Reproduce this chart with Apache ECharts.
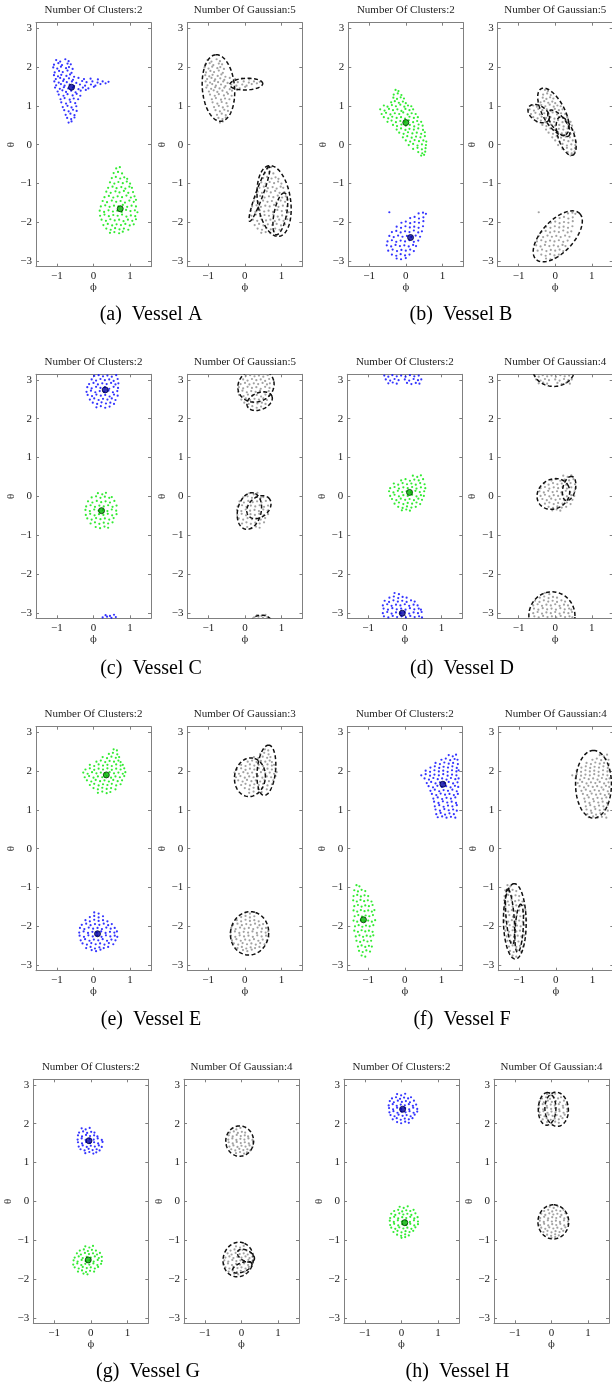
<!DOCTYPE html>
<html><head><meta charset="utf-8">
<script src="https://cdn.jsdelivr.net/npm/echarts@6/dist/echarts.min.js"></script>
<style>html,body{margin:0;padding:0;background:#fff}#c{width:612px;height:1387px}</style>
</head><body><div id="c"></div>
<script>
// ---------------- DATA ----------------
const letters = ['a','b','c','d','e','f','g','h'];
const vesselNames = ['Vessel A','Vessel B','Vessel C','Vessel D','Vessel E','Vessel F','Vessel G','Vessel H'];
const clusterCounts = [2,2,2,2,2,2,2,2];
const gaussianCounts = [5,5,5,4,3,4,4,4];
const xTickValues = [-1,0,1];
const yTickValues = [-3,-2,-1,0,1,2,3];

// point clouds: flat [phi, theta, phi, theta, ...]
const aBlue = [-1.02,2.18,-0.91,2.14,-0.77,2.20,-0.68,2.15,-1.08,2.06,-0.96,2.10,-0.86,2.05,-0.71,2.09,-0.62,2.07,-1.10,1.99,-0.99,1.96,-0.89,2.01,-0.75,1.97,-0.67,2.00,-0.57,1.95,-1.06,1.86,-0.94,1.90,-0.84,1.87,-0.71,1.91,-0.60,1.85,-1.08,1.79,-0.97,1.76,-0.88,1.80,-0.74,1.77,-0.64,1.81,-0.53,1.75,-1.03,1.69,-0.91,1.72,-0.81,1.68,-0.67,1.71,-0.56,1.67,-0.41,1.72,-0.26,1.69,-0.08,1.70,0.12,1.68,-1.07,1.63,-0.95,1.60,-0.83,1.64,-0.73,1.61,-0.59,1.63,-0.47,1.59,-0.31,1.64,-0.19,1.61,-0.03,1.63,0.11,1.60,0.25,1.63,0.41,1.62,-1.02,1.53,-0.89,1.56,-0.79,1.52,-0.65,1.55,-0.53,1.51,-0.37,1.55,-0.23,1.52,-0.07,1.55,0.05,1.52,0.19,1.56,0.33,1.58,-1.05,1.47,-0.92,1.44,-0.81,1.48,-0.69,1.45,-0.56,1.47,-0.41,1.43,-0.29,1.47,-0.14,1.45,0.01,1.49,-0.98,1.37,-0.85,1.40,-0.75,1.36,-0.61,1.39,-0.49,1.35,-0.35,1.39,-0.21,1.41,-0.95,1.29,-0.82,1.26,-0.71,1.30,-0.57,1.27,-0.46,1.31,-0.36,1.26,-0.90,1.17,-0.79,1.20,-0.65,1.16,-0.54,1.19,-0.42,1.17,-0.88,1.09,-0.75,1.06,-0.63,1.10,-0.50,1.07,-0.84,0.97,-0.71,1.00,-0.60,0.96,-0.47,0.99,-0.80,0.89,-0.68,0.86,-0.56,0.90,-0.46,0.87,-0.76,0.77,-0.63,0.80,-0.52,0.76,-0.72,0.69,-0.61,0.66,-0.52,0.70,-0.68,0.57,-0.60,0.60];
const aGreen = [0.62,-0.61,0.72,-0.58,0.55,-0.73,0.67,-0.70,0.78,-0.74,0.50,-0.86,0.61,-0.83,0.73,-0.87,0.84,-0.84,0.92,-0.88,0.45,-0.97,0.57,-1.00,0.68,-0.96,0.80,-0.99,0.91,-0.95,1.00,-1.00,0.40,-1.11,0.52,-1.08,0.63,-1.12,0.76,-1.09,0.87,-1.13,0.98,-1.08,1.05,-1.11,0.35,-1.21,0.47,-1.24,0.60,-1.20,0.71,-1.23,0.83,-1.19,0.95,-1.24,1.08,-1.22,0.30,-1.35,0.42,-1.32,0.54,-1.36,0.66,-1.33,0.78,-1.35,0.90,-1.31,1.02,-1.36,1.12,-1.33,0.25,-1.45,0.37,-1.48,0.50,-1.44,0.62,-1.47,0.74,-1.45,0.86,-1.49,0.98,-1.44,1.10,-1.47,1.16,-1.42,0.20,-1.59,0.32,-1.56,0.44,-1.60,0.56,-1.57,0.68,-1.59,0.80,-1.55,0.92,-1.60,1.04,-1.57,1.16,-1.59,0.17,-1.70,0.29,-1.73,0.41,-1.69,0.53,-1.72,0.65,-1.70,0.77,-1.73,0.89,-1.68,1.01,-1.71,1.13,-1.69,1.20,-1.74,0.18,-1.83,0.30,-1.80,0.42,-1.84,0.54,-1.81,0.66,-1.83,0.78,-1.80,0.90,-1.85,1.02,-1.82,1.14,-1.84,0.22,-1.93,0.34,-1.96,0.46,-1.92,0.58,-1.95,0.70,-1.93,0.82,-1.97,0.94,-1.93,1.06,-1.96,1.16,-1.92,0.27,-2.07,0.39,-2.04,0.51,-2.08,0.63,-2.05,0.75,-2.07,0.87,-2.04,0.99,-2.08,1.10,-2.05,0.35,-2.16,0.47,-2.19,0.59,-2.15,0.71,-2.18,0.83,-2.16,0.95,-2.19,0.45,-2.27,0.57,-2.25,0.70,-2.28,0.80,-2.24];
const bBlue = [-0.45,-1.74,0.35,-1.77,0.47,-1.75,0.55,-1.78,0.12,-1.89,0.24,-1.86,0.36,-1.90,0.48,-1.87,-0.12,-2.01,0.00,-1.98,0.12,-2.02,0.24,-1.99,0.36,-2.01,0.48,-1.97,-0.25,-2.11,-0.13,-2.14,-0.01,-2.10,0.11,-2.13,0.23,-2.11,0.35,-2.14,0.47,-2.10,-0.38,-2.25,-0.26,-2.22,-0.14,-2.26,-0.02,-2.23,0.10,-2.25,0.22,-2.21,0.34,-2.26,0.44,-2.23,-0.45,-2.35,-0.33,-2.38,-0.21,-2.34,-0.09,-2.37,0.03,-2.35,0.15,-2.38,0.27,-2.34,0.39,-2.37,-0.50,-2.49,-0.38,-2.46,-0.26,-2.50,-0.14,-2.47,-0.02,-2.49,0.10,-2.46,0.22,-2.50,0.34,-2.47,-0.52,-2.59,-0.40,-2.62,-0.28,-2.58,-0.16,-2.61,-0.04,-2.59,0.08,-2.62,0.20,-2.58,0.28,-2.61,-0.48,-2.73,-0.36,-2.70,-0.24,-2.74,-0.12,-2.71,0.00,-2.73,0.12,-2.70,0.22,-2.74,-0.38,-2.83,-0.26,-2.86,-0.14,-2.82,-0.02,-2.85,0.10,-2.83,-0.25,-2.93,-0.13,-2.95,0.00,-2.92];
const bGreen = [-0.28,1.41,-0.20,1.38,-0.33,1.29,-0.22,1.32,-0.12,1.28,-0.34,1.21,-0.24,1.18,-0.14,1.22,-0.05,1.19,-0.40,1.09,-0.30,1.12,-0.19,1.08,-0.08,1.11,0.00,1.07,-0.60,1.01,-0.50,0.98,-0.38,1.02,-0.27,0.99,-0.15,1.03,-0.04,0.98,0.06,1.01,0.15,0.99,-0.70,0.91,-0.58,0.88,-0.46,0.92,-0.35,0.89,-0.23,0.91,-0.12,0.87,-0.01,0.92,0.10,0.89,0.20,0.91,-0.66,0.79,-0.54,0.82,-0.42,0.78,-0.30,0.81,-0.18,0.79,-0.07,0.83,0.05,0.78,0.16,0.81,0.27,0.79,-0.60,0.71,-0.48,0.68,-0.37,0.72,-0.25,0.69,-0.13,0.71,-0.02,0.67,0.10,0.72,0.22,0.69,0.33,0.71,-0.50,0.59,-0.39,0.62,-0.27,0.58,-0.15,0.61,-0.03,0.59,0.08,0.63,0.20,0.58,0.31,0.61,0.42,0.59,-0.35,0.51,-0.24,0.48,-0.12,0.52,0.00,0.49,0.11,0.51,0.23,0.47,0.35,0.52,0.46,0.49,-0.25,0.39,-0.13,0.42,-0.01,0.38,0.10,0.41,0.22,0.39,0.34,0.42,0.47,0.38,-0.18,0.31,-0.06,0.28,0.06,0.32,0.18,0.29,0.30,0.31,0.42,0.28,0.52,0.32,-0.08,0.19,0.04,0.22,0.16,0.18,0.28,0.21,0.40,0.19,0.52,0.22,0.00,0.11,0.12,0.08,0.24,0.12,0.36,0.09,0.48,0.11,0.56,0.08,0.08,-0.01,0.20,0.02,0.32,-0.02,0.44,0.01,0.55,-0.01,0.20,-0.11,0.32,-0.08,0.44,-0.12,0.54,-0.09,0.34,-0.19,0.45,-0.22,0.53,-0.18,0.42,-0.28,0.50,-0.26];
const cBlue = [0.02,3.10,0.14,3.12,0.26,3.09,0.38,3.11,0.50,3.08,0.62,3.12,-0.05,3.01,0.07,2.98,0.19,3.02,0.31,2.99,0.43,3.01,0.55,2.97,0.66,3.02,-0.12,2.89,0.00,2.92,0.12,2.88,0.24,2.91,0.36,2.89,0.48,2.92,0.60,2.88,0.68,2.91,-0.17,2.81,-0.05,2.78,0.07,2.82,0.19,2.79,0.31,2.81,0.43,2.77,0.55,2.82,0.67,2.79,-0.19,2.69,-0.07,2.72,0.05,2.68,0.17,2.71,0.29,2.69,0.41,2.72,0.53,2.68,0.65,2.71,-0.16,2.61,-0.04,2.58,0.08,2.62,0.20,2.59,0.32,2.61,0.44,2.57,0.56,2.62,0.66,2.59,-0.10,2.49,0.02,2.52,0.14,2.48,0.26,2.51,0.38,2.49,0.50,2.52,0.60,2.48,-0.02,2.41,0.10,2.38,0.22,2.42,0.34,2.39,0.46,2.41,0.56,2.38,0.08,2.29,0.20,2.32,0.32,2.28,0.44,2.31,0.25,-3.12,0.37,-3.10,0.49,-3.13,0.61,-3.11,0.33,-3.06,0.45,-3.08,0.56,-3.05];
const cGreen = [0.12,0.08,0.24,0.05,0.34,0.09,-0.05,-0.03,0.07,0.00,0.19,-0.04,0.31,-0.01,0.43,-0.04,0.50,-0.02,-0.15,-0.13,-0.03,-0.16,0.09,-0.12,0.21,-0.15,0.33,-0.13,0.45,-0.16,0.57,-0.12,-0.20,-0.26,-0.08,-0.23,0.04,-0.27,0.16,-0.24,0.28,-0.26,0.40,-0.23,0.52,-0.27,0.63,-0.24,-0.22,-0.35,-0.10,-0.38,0.02,-0.34,0.14,-0.37,0.26,-0.35,0.38,-0.38,0.50,-0.34,0.62,-0.37,-0.21,-0.48,-0.09,-0.45,0.03,-0.49,0.15,-0.46,0.27,-0.48,0.39,-0.45,0.51,-0.49,0.63,-0.46,-0.17,-0.57,-0.05,-0.60,0.07,-0.56,0.19,-0.59,0.31,-0.57,0.43,-0.60,0.55,-0.56,-0.08,-0.70,0.04,-0.67,0.16,-0.71,0.28,-0.68,0.40,-0.70,0.52,-0.67,0.06,-0.79,0.18,-0.82,0.30,-0.78,0.40,-0.81];
const dBlue = [-0.56,3.11,-0.45,3.08,-0.34,3.12,-0.22,3.09,-0.10,3.11,0.02,3.08,0.14,3.12,0.26,3.09,0.38,3.11,-0.52,3.01,-0.40,2.98,-0.28,3.02,-0.17,2.99,0.00,3.01,0.12,2.98,0.24,3.02,0.36,2.99,0.45,3.01,-0.45,2.91,-0.33,2.93,-0.22,2.90,0.06,2.92,0.18,2.89,0.30,2.92,0.40,2.90,-0.28,-2.49,-0.16,-2.52,-0.42,-2.61,-0.30,-2.58,-0.18,-2.62,-0.06,-2.59,0.05,-2.61,-0.55,-2.69,-0.43,-2.72,-0.31,-2.68,-0.19,-2.71,-0.07,-2.69,0.05,-2.72,0.17,-2.68,0.27,-2.71,-0.60,-2.81,-0.48,-2.78,-0.36,-2.82,-0.24,-2.79,-0.12,-2.81,0.00,-2.78,0.12,-2.82,0.24,-2.79,0.35,-2.81,-0.58,-2.89,-0.46,-2.92,-0.34,-2.88,-0.22,-2.91,-0.10,-2.89,0.02,-2.92,0.14,-2.88,0.26,-2.91,0.38,-2.89,0.44,-2.92,-0.60,-3.01,-0.48,-2.98,-0.36,-3.02,-0.24,-2.99,-0.12,-3.01,0.00,-2.98,0.12,-3.02,0.24,-2.99,0.36,-3.01,0.46,-2.98,-0.57,-3.09,-0.45,-3.12,-0.33,-3.08,-0.21,-3.11,-0.09,-3.09,0.03,-3.12,0.15,-3.08,0.27,-3.11,0.39,-3.09,0.47,-3.12];
const dGreen = [0.22,0.53,0.34,0.50,0.44,0.54,-0.10,0.41,0.02,0.44,0.14,0.40,0.26,0.43,0.38,0.41,0.50,0.44,-0.30,0.33,-0.18,0.30,-0.06,0.34,0.06,0.31,0.18,0.33,0.30,0.30,0.42,0.34,0.54,0.31,-0.40,0.21,-0.28,0.24,-0.16,0.20,-0.04,0.23,0.08,0.21,0.20,0.24,0.32,0.20,0.44,0.23,0.56,0.21,-0.43,0.13,-0.31,0.10,-0.19,0.14,-0.07,0.11,0.05,0.13,0.17,0.10,0.29,0.14,0.41,0.11,0.53,0.13,-0.40,0.01,-0.28,0.04,-0.16,0.00,-0.04,0.03,0.08,0.01,0.20,0.04,0.32,0.00,0.44,0.03,0.52,0.01,-0.35,-0.07,-0.23,-0.10,-0.11,-0.06,0.01,-0.09,0.13,-0.07,0.25,-0.10,0.37,-0.06,0.47,-0.09,-0.28,-0.19,-0.16,-0.16,-0.04,-0.20,0.08,-0.17,0.20,-0.19,0.32,-0.16,0.42,-0.20,-0.18,-0.27,-0.06,-0.30,0.06,-0.26,0.18,-0.29,0.30,-0.27,-0.08,-0.36,0.04,-0.34,0.14,-0.37];
const eBlue = [0.02,-1.64,0.14,-1.67,-0.10,-1.76,0.02,-1.73,0.14,-1.77,0.26,-1.74,-0.22,-1.84,-0.10,-1.87,0.02,-1.83,0.14,-1.86,0.26,-1.84,0.38,-1.87,-0.32,-1.96,-0.20,-1.93,-0.08,-1.97,0.04,-1.94,0.16,-1.96,0.28,-1.93,0.40,-1.97,0.50,-1.94,-0.37,-2.04,-0.25,-2.07,-0.13,-2.03,-0.01,-2.06,0.11,-2.04,0.23,-2.07,0.35,-2.03,0.47,-2.06,0.58,-2.04,-0.39,-2.16,-0.27,-2.13,-0.15,-2.17,-0.03,-2.14,0.09,-2.16,0.21,-2.13,0.33,-2.17,0.45,-2.14,0.57,-2.16,0.64,-2.13,-0.38,-2.24,-0.26,-2.27,-0.14,-2.23,-0.02,-2.26,0.10,-2.24,0.22,-2.27,0.34,-2.23,0.46,-2.26,0.58,-2.24,0.65,-2.27,-0.35,-2.36,-0.23,-2.33,-0.11,-2.37,0.01,-2.34,0.13,-2.36,0.25,-2.33,0.37,-2.37,0.49,-2.34,0.60,-2.36,-0.30,-2.44,-0.18,-2.47,-0.06,-2.43,0.06,-2.46,0.18,-2.44,0.30,-2.47,0.42,-2.43,0.54,-2.46,-0.20,-2.56,-0.08,-2.53,0.04,-2.57,0.16,-2.54,0.28,-2.56,0.40,-2.53,-0.05,-2.61,0.07,-2.64,0.19,-2.60];
const eGreen = [0.55,2.56,0.64,2.53,0.42,2.44,0.53,2.47,0.65,2.43,0.25,2.36,0.37,2.33,0.49,2.37,0.61,2.34,0.70,2.36,0.08,2.24,0.20,2.27,0.32,2.23,0.44,2.26,0.56,2.24,0.68,2.27,0.74,2.23,-0.10,2.16,0.02,2.13,0.14,2.17,0.26,2.14,0.38,2.16,0.50,2.13,0.62,2.17,0.74,2.14,0.80,2.16,-0.22,2.04,-0.10,2.07,0.02,2.03,0.14,2.06,0.26,2.04,0.38,2.07,0.50,2.03,0.62,2.06,0.74,2.04,0.84,2.07,-0.28,1.96,-0.16,1.93,-0.04,1.97,0.08,1.94,0.20,1.96,0.32,1.93,0.44,1.97,0.56,1.94,0.68,1.96,0.80,1.93,0.87,1.97,-0.24,1.84,-0.12,1.87,0.00,1.83,0.12,1.86,0.24,1.84,0.36,1.87,0.48,1.83,0.60,1.86,0.72,1.84,0.84,1.87,-0.18,1.76,-0.06,1.73,0.06,1.77,0.18,1.74,0.30,1.76,0.42,1.73,0.54,1.77,0.66,1.74,0.78,1.76,-0.10,1.64,0.02,1.67,0.14,1.63,0.26,1.66,0.38,1.64,0.50,1.67,0.62,1.63,0.74,1.66,0.00,1.56,0.12,1.53,0.24,1.57,0.36,1.54,0.48,1.56,0.60,1.53,0.12,1.44,0.24,1.47,0.36,1.43,0.46,1.46];
const fBlue = [1.20,2.41,1.31,2.38,1.40,2.42,1.00,2.29,1.12,2.32,1.24,2.28,1.36,2.31,1.44,2.29,0.84,2.21,0.96,2.18,1.08,2.22,1.20,2.19,1.32,2.21,1.45,2.18,0.70,2.09,0.82,2.12,0.94,2.08,1.06,2.11,1.18,2.09,1.30,2.12,1.42,2.08,0.57,2.01,0.69,1.98,0.81,2.02,0.93,1.99,1.05,2.01,1.17,1.98,1.29,2.02,1.41,1.99,1.47,2.02,0.45,1.89,0.57,1.92,0.69,1.88,0.81,1.91,0.93,1.89,1.05,1.92,1.17,1.88,1.29,1.91,1.41,1.89,0.54,1.81,0.66,1.78,0.78,1.82,0.90,1.79,1.02,1.81,1.14,1.78,1.26,1.82,1.38,1.79,1.47,1.81,0.60,1.69,0.72,1.72,0.84,1.68,0.96,1.71,1.08,1.69,1.20,1.72,1.32,1.68,1.44,1.71,0.65,1.61,0.77,1.58,0.89,1.62,1.01,1.59,1.13,1.61,1.25,1.58,1.37,1.62,1.46,1.59,0.70,1.49,0.82,1.52,0.94,1.48,1.06,1.51,1.18,1.49,1.30,1.52,1.42,1.48,0.74,1.41,0.86,1.38,0.98,1.42,1.10,1.39,1.22,1.41,1.34,1.38,1.45,1.41,0.78,1.29,0.90,1.32,1.02,1.28,1.14,1.31,1.26,1.29,1.38,1.32,0.80,1.21,0.92,1.18,1.04,1.22,1.16,1.19,1.28,1.21,1.40,1.18,0.82,1.09,0.94,1.12,1.06,1.08,1.18,1.11,1.30,1.09,1.42,1.12,0.84,1.01,0.96,0.98,1.08,1.02,1.20,0.99,1.32,1.01,1.42,0.98,0.86,0.89,0.98,0.92,1.10,0.88,1.22,0.91,1.34,0.89,0.90,0.81,1.02,0.83,1.14,0.80,1.26,0.82,1.38,0.80];
const fGreen = [-1.32,-0.94,-1.24,-0.97,-1.38,-1.07,-1.28,-1.10,-1.18,-1.06,-1.08,-1.09,-1.40,-1.22,-1.30,-1.19,-1.20,-1.23,-1.10,-1.20,-1.00,-1.22,-1.41,-1.33,-1.31,-1.36,-1.21,-1.32,-1.11,-1.35,-1.01,-1.33,-0.91,-1.36,-1.38,-1.48,-1.28,-1.45,-1.18,-1.49,-1.08,-1.46,-0.98,-1.48,-0.88,-1.45,-1.40,-1.59,-1.30,-1.62,-1.20,-1.58,-1.10,-1.61,-1.00,-1.59,-0.90,-1.62,-0.83,-1.58,-1.37,-1.74,-1.27,-1.71,-1.17,-1.75,-1.07,-1.72,-0.97,-1.74,-0.87,-1.71,-1.40,-1.85,-1.30,-1.88,-1.20,-1.84,-1.10,-1.87,-1.00,-1.85,-0.90,-1.88,-0.81,-1.84,-1.36,-2.00,-1.26,-1.97,-1.16,-2.01,-1.06,-1.98,-0.96,-2.00,-0.86,-1.97,-1.38,-2.11,-1.28,-2.14,-1.18,-2.10,-1.08,-2.13,-0.98,-2.11,-0.88,-2.14,-1.34,-2.26,-1.24,-2.23,-1.14,-2.27,-1.04,-2.24,-0.94,-2.26,-0.86,-2.23,-1.32,-2.37,-1.22,-2.40,-1.12,-2.36,-1.02,-2.39,-0.92,-2.37,-1.28,-2.52,-1.18,-2.49,-1.08,-2.53,-0.98,-2.50,-0.90,-2.52,-1.25,-2.63,-1.15,-2.66,-1.05,-2.62,-0.95,-2.65,-1.18,-2.75,-1.08,-2.78];
const gBlue = [-0.25,1.88,-0.14,1.85,-0.03,1.89,-0.32,1.77,-0.21,1.80,-0.10,1.76,0.01,1.79,0.10,1.77,-0.35,1.70,-0.24,1.67,-0.13,1.71,-0.02,1.68,0.09,1.70,0.18,1.67,-0.36,1.59,-0.25,1.62,-0.14,1.58,-0.03,1.61,0.08,1.59,0.19,1.62,0.30,1.58,-0.35,1.52,-0.24,1.49,-0.13,1.53,-0.02,1.50,0.09,1.52,0.20,1.49,0.32,1.53,-0.33,1.41,-0.22,1.44,-0.11,1.40,0.00,1.43,0.11,1.41,0.22,1.44,0.30,1.40,-0.28,1.34,-0.17,1.31,-0.06,1.35,0.05,1.32,0.16,1.34,0.24,1.31,-0.15,1.24,-0.04,1.27,0.07,1.23,0.15,1.26];
const gGreen = [-0.15,-1.16,-0.04,-1.19,0.06,-1.15,-0.30,-1.27,-0.19,-1.24,-0.08,-1.28,0.03,-1.25,0.14,-1.27,-0.38,-1.34,-0.27,-1.37,-0.16,-1.33,-0.05,-1.36,0.06,-1.34,0.17,-1.37,0.25,-1.33,-0.44,-1.45,-0.33,-1.42,-0.22,-1.46,-0.11,-1.43,0.00,-1.45,0.11,-1.42,0.22,-1.46,0.30,-1.43,-0.47,-1.52,-0.36,-1.55,-0.25,-1.51,-0.14,-1.54,-0.03,-1.52,0.08,-1.55,0.19,-1.51,0.30,-1.54,-0.48,-1.63,-0.37,-1.60,-0.26,-1.64,-0.15,-1.61,-0.04,-1.63,0.07,-1.60,0.18,-1.64,0.28,-1.61,-0.44,-1.70,-0.33,-1.73,-0.22,-1.69,-0.11,-1.72,0.00,-1.70,0.11,-1.73,0.20,-1.69,-0.35,-1.81,-0.24,-1.78,-0.13,-1.82,-0.02,-1.79,0.09,-1.81,-0.20,-1.86,-0.09,-1.88];
const hBlue = [-0.12,2.76,-0.01,2.73,0.10,2.77,-0.26,2.65,-0.15,2.68,-0.04,2.64,0.07,2.67,0.18,2.65,0.26,2.68,-0.32,2.58,-0.21,2.55,-0.10,2.59,0.01,2.56,0.12,2.58,0.23,2.55,0.34,2.59,-0.35,2.47,-0.24,2.50,-0.13,2.46,-0.02,2.49,0.09,2.47,0.20,2.50,0.31,2.46,0.40,2.49,-0.34,2.40,-0.23,2.37,-0.12,2.41,-0.01,2.38,0.10,2.40,0.21,2.37,0.32,2.41,0.43,2.38,-0.33,2.29,-0.22,2.32,-0.11,2.28,0.00,2.31,0.11,2.29,0.22,2.32,0.33,2.28,0.43,2.31,-0.30,2.22,-0.19,2.19,-0.08,2.23,0.03,2.20,0.14,2.22,0.25,2.19,0.36,2.23,-0.24,2.11,-0.13,2.14,-0.02,2.10,0.09,2.13,0.20,2.11,0.30,2.14,-0.12,2.04,-0.01,2.01,0.10,2.05,0.20,2.02];
const hGreen = [-0.05,-0.14,0.06,-0.17,0.17,-0.13,-0.20,-0.25,-0.09,-0.22,0.02,-0.26,0.13,-0.23,0.24,-0.25,0.33,-0.22,-0.28,-0.32,-0.17,-0.35,-0.06,-0.31,0.05,-0.34,0.16,-0.32,0.27,-0.35,0.38,-0.31,-0.31,-0.43,-0.20,-0.40,-0.09,-0.44,0.02,-0.41,0.13,-0.43,0.24,-0.40,0.35,-0.44,0.44,-0.41,-0.32,-0.50,-0.21,-0.53,-0.10,-0.49,0.01,-0.52,0.12,-0.50,0.23,-0.53,0.34,-0.49,0.45,-0.52,-0.31,-0.61,-0.20,-0.58,-0.09,-0.62,0.02,-0.59,0.13,-0.61,0.24,-0.58,0.35,-0.62,0.45,-0.59,-0.28,-0.68,-0.17,-0.71,-0.06,-0.67,0.05,-0.70,0.16,-0.68,0.27,-0.71,0.38,-0.67,-0.22,-0.79,-0.11,-0.76,0.00,-0.80,0.11,-0.77,0.22,-0.79,0.32,-0.76,-0.12,-0.86,-0.01,-0.89,0.10,-0.85,0.20,-0.88,0.00,-0.94,0.10,-0.92];

// cluster centres: [blue phi, blue theta, green phi, green theta]
const aCent = [-0.60,1.48, 0.73,-1.65];
const bCent = [0.13,-2.39, 0.00,0.57];
const cCent = [0.32,2.74, 0.22,-0.37];
const dCent = [-0.07,-3.01, 0.13,0.10];
const eCent = [0.11,-2.19, 0.35,1.90];
const fCent = [1.04,1.66, -1.13,-1.83];
const gCent = [-0.05,1.56, -0.07,-1.51];
const hCent = [0.03,2.37, 0.09,-0.55];

// Gaussian components: [centre phi, centre theta, semi-axis a, semi-axis b, angle deg]
const aEll = [[-0.72,1.46,0.86,0.44,95],[0.04,1.56,0.45,0.15,2],[0.80,-1.45,0.92,0.45,99],[0.40,-1.27,0.75,0.10,69],[0.97,-1.78,0.55,0.17,78]];
const bEll = [[0.07,-2.36,0.84,0.42,44],[-0.05,0.85,0.68,0.30,-60],[-0.45,0.80,0.32,0.20,-30],[0.30,0.22,0.52,0.22,-70],[0.10,0.55,0.42,0.18,-50]];
const cEll = [[0.30,2.85,0.50,0.42,15],[0.40,2.45,0.36,0.22,20],[0.12,-0.38,0.48,0.32,75],[0.38,-0.28,0.36,0.26,35],[0.45,-3.32,0.32,0.26,0]];
const dEll = [[-0.04,3.28,0.57,0.45,0],[-0.05,0.06,0.46,0.38,25],[0.38,0.20,0.32,0.17,75],[-0.09,-3.08,0.63,0.62,0]];
const eEll = [[0.14,1.84,0.50,0.42,80],[0.59,2.02,0.65,0.25,84],[0.13,-2.18,0.56,0.52,75]];
const fEll = [[1.03,1.66,0.87,0.49,90],[-1.12,-1.87,0.97,0.31,91],[-1.25,-1.75,0.72,0.11,95],[-1.00,-2.05,0.62,0.11,86]];
const gEll = [[-0.05,1.55,0.39,0.38,90],[-0.09,-1.50,0.45,0.41,70],[0.12,-1.40,0.25,0.14,-25],[0.02,-1.70,0.28,0.12,20]];
const hEll = [[-0.12,2.38,0.42,0.24,88],[0.14,2.37,0.44,0.32,95],[0.05,-0.53,0.44,0.42,90]];

const blues = [aBlue,bBlue,cBlue,dBlue,eBlue,fBlue,gBlue,hBlue];
const greens = [aGreen,bGreen,cGreen,dGreen,eGreen,fGreen,gGreen,hGreen];
const cents = [aCent,bCent,cCent,dCent,eCent,fCent,gCent,hCent];
const ells = [aEll,bEll,cEll,dEll,eEll,fEll,gEll,hEll];

// ---------------- LAYOUT ----------------
const ROW_TOP = [22.7, 374.3, 726.7, 1079.3];
const PH = 244, PW = 115;
const PANEL_LEFT = [[36,187.3,348.3,497.7],[36,187.5,347.3,497.7],[36,187.3,347.3,498.3],[33.3,184,344,494]];
const CAP_X = [[151,461],[151,462],[151,462],[148,457.5]];
const CAP_Y = [315, 669, 1020, 1372];
const SERIF = '"Liberation Serif","Times New Roman",serif';
const AXIS_COLOR = '#808080';

const pairs = f => { const r = []; for (let i = 0; i < f.length; i += 2) r.push([f[i], f[i+1]]); return r; };
const fmt = v => (v < 0 ? '\u2212' + Math.abs(v) : String(v));

const grids = [], xAxes = [], yAxes = [], series = [], graphics = [];

function addPanel(left, top) {
  const gi = grids.length;
  grids.push({left: left, top: top, width: PW, height: PH, outerBoundsMode: 'none', containLabel: false});
  const ls = {color: AXIS_COLOR, width: 1};
  const base = {gridIndex: gi, type: 'value', splitLine: {show: false}, axisLine: {show: true, onZero: false, lineStyle: ls}};
  const xb = {min: -Math.PI/2, max: Math.PI/2};
  const yb = {min: -Math.PI, max: Math.PI};
  xAxes.push(Object.assign({}, base, xb, {position: 'bottom',
    axisTick: {show: true, inside: true, length: 3, customValues: xTickValues, lineStyle: ls},
    axisLabel: {show: true, customValues: xTickValues, formatter: fmt, fontFamily: SERIF, fontSize: 11, color: '#222', margin: 4},
    name: '\u03D5', nameLocation: 'middle', nameGap: 12,
    nameTextStyle: {fontFamily: '"DejaVu Serif",serif', fontSize: 10, color: '#333'}}));
  xAxes.push(Object.assign({}, base, xb, {position: 'top',
    axisTick: {show: true, inside: true, length: 3, customValues: xTickValues, lineStyle: ls},
    axisLabel: {show: false}}));
  yAxes.push(Object.assign({}, base, yb, {position: 'left',
    axisTick: {show: true, inside: true, length: 3, customValues: yTickValues, lineStyle: ls},
    axisLabel: {show: true, customValues: yTickValues, formatter: fmt, fontFamily: SERIF, fontSize: 11, color: '#222', margin: 4},
    name: '\u03B8', nameLocation: 'middle', nameGap: 13, nameRotate: 90,
    nameTextStyle: {fontFamily: SERIF, fontSize: 11, color: '#333'}}));
  yAxes.push(Object.assign({}, base, yb, {position: 'right',
    axisTick: {show: true, inside: true, length: 3, customValues: yTickValues, lineStyle: ls},
    axisLabel: {show: false}}));
  return gi;
}

function ellipseRender(params, api) {
  const cx = api.value(0), cy = api.value(1), a = api.value(2), b = api.value(3);
  const ang = api.value(4) * Math.PI / 180;
  const ca = Math.cos(ang), sa = Math.sin(ang);
  const pts = [];
  for (let k = 0; k < 90; k++) {
    const t = k / 90 * 2 * Math.PI;
    const u = a * Math.cos(t), w = b * Math.sin(t);
    pts.push(api.coord([cx + u * ca - w * sa, cy + u * sa + w * ca]));
  }
  return {type: 'polygon', shape: {points: pts},
    style: {fill: 'none', stroke: '#111', lineWidth: 1.5, lineDash: [4, 2.5]}};
}

for (let i = 0; i < 8; i++) {
  const row = Math.floor(i / 2), col = i % 2;
  const top = ROW_TOP[row];
  const lL = PANEL_LEFT[row][2*col], lR = PANEL_LEFT[row][2*col+1];
  const g1 = addPanel(lL, top);
  const g2 = addPanel(lR, top);
  const blue = pairs(blues[i]), green = pairs(greens[i]), c = cents[i];
  const ax1 = {xAxisIndex: 2*g1, yAxisIndex: 2*g1};
  const ax2 = {xAxisIndex: 2*g2, yAxisIndex: 2*g2};
  series.push(Object.assign({type: 'scatter', data: blue, symbol: 'circle', symbolSize: 2.2, itemStyle: {color: '#0000ff'}, silent: true, z: 2}, ax1));
  series.push(Object.assign({type: 'scatter', data: green, symbol: 'circle', symbolSize: 2.2, itemStyle: {color: '#00e600'}, silent: true, z: 2}, ax1));
  series.push(Object.assign({type: 'scatter', symbolSize: 6, silent: true, z: 5, data: [
    {value: [c[0], c[1]], itemStyle: {color: '#0000a0', borderColor: '#000040', borderWidth: 1}},
    {value: [c[2], c[3]], itemStyle: {color: '#00b000', borderColor: '#003000', borderWidth: 1}}]}, ax1));
  series.push(Object.assign({type: 'scatter', data: blue.concat(green), symbol: 'circle', symbolSize: 2.2, itemStyle: {color: '#8a8a8a'}, silent: true, z: 2}, ax2));
  series.push(Object.assign({type: 'custom', data: ells[i], renderItem: ellipseRender, clip: true, silent: true, z: 4,
    encode: {x: 0, y: 1}}, ax2));

  graphics.push({type: 'text', x: lL + PW/2, y: top - 12.5, silent: true,
    style: {text: 'Number Of Clusters:' + clusterCounts[i], fontFamily: SERIF, fontSize: 11, fill: '#222', align: 'center', verticalAlign: 'middle'}});
  graphics.push({type: 'text', x: lR + PW/2, y: top - 12.5, silent: true,
    style: {text: 'Number Of Gaussian:' + gaussianCounts[i], fontFamily: SERIF, fontSize: 11, fill: '#222', align: 'center', verticalAlign: 'middle'}});
  graphics.push({type: 'text', x: CAP_X[row][col], y: CAP_Y[row], silent: true,
    style: {text: '(' + letters[i] + ')  ' + vesselNames[i], fontFamily: SERIF, fontSize: 20, fill: '#000', align: 'center', verticalAlign: 'middle'}});
}

const chart = echarts.init(document.getElementById('c'), null, {renderer: 'canvas', width: 612, height: 1387});
chart.setOption({
  animation: false,
  backgroundColor: '#fff',
  grid: grids, xAxis: xAxes, yAxis: yAxes, series: series, graphic: graphics
});
</script></body></html>
